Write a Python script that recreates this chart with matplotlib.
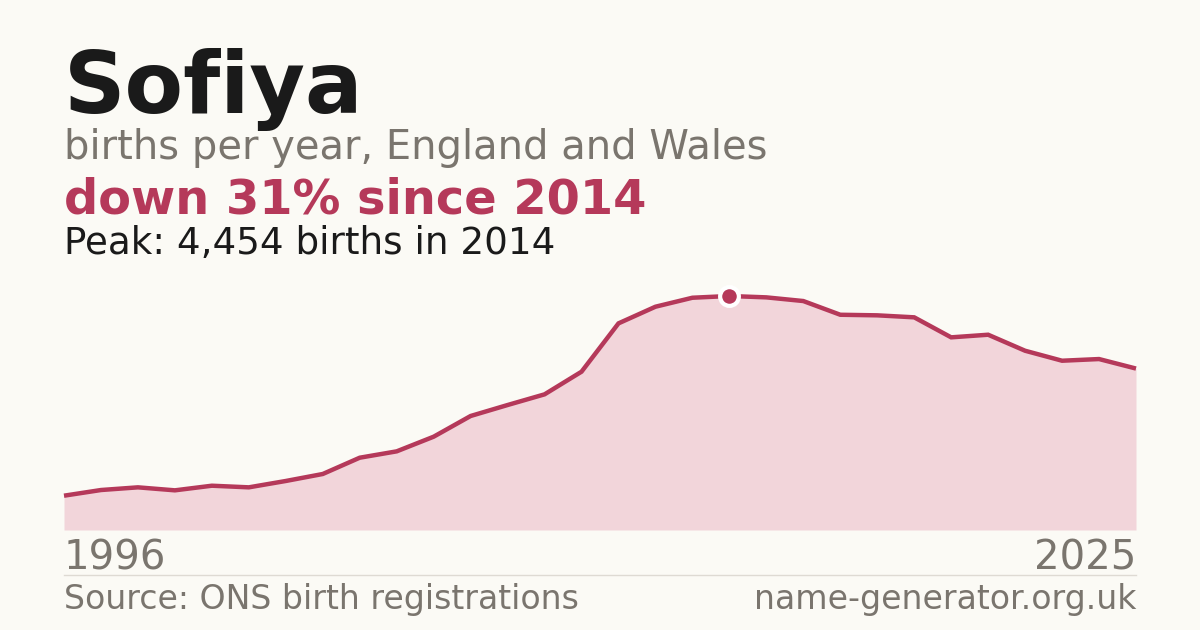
import matplotlib
matplotlib.use("Agg")
import matplotlib.pyplot as plt

# births per year for Sofiya, England and Wales
years = list(range(1996, 2026))
births = [653, 761, 812, 755, 843, 812, 933, 1066, 1376, 1497,
          1776, 2170, 2379, 2582, 3013, 3933, 4250, 4421, 4454, 4428,
          4358, 4097, 4086, 4048, 3667, 3717, 3412, 3222, 3254, 3073]
peak_year = 2014
peak_value = 4454

title = "Sofiya"
subtitle = "births per year, England and Wales"
headline = "down 31% since 2014"
peak_text = "Peak: 4,454 births in 2014"
source = "Source: ONS birth registrations"
site = "name-generator.org.uk"

BG = "#fbfaf5"
RED = "#b5395a"
FILL = "#f2d5da"
GREY = "#7a756e"
DARK = "#1a1a1a"

W, H = 1200, 630
fig = plt.figure(figsize=(W / 100, H / 100), dpi=100, facecolor=BG)


def fx(px):
    return px / W


def fy(py):
    return 1 - py / H


# plot area: x 64..1136, y 296(top, peak)..530(baseline)
ax = fig.add_axes([fx(64), fy(530), fx(1136 - 64), (530 - 296) / H])
ax.set_facecolor(BG)
ax.fill_between(years, births, 0, color=FILL, linewidth=0)
ax.plot(years, births, color=RED, linewidth=3.2, solid_joinstyle="miter",
        solid_capstyle="butt", clip_on=False, zorder=3)
ax.plot([peak_year], [peak_value], marker="o", markersize=13.5,
        markerfacecolor=RED, markeredgecolor="white", markeredgewidth=3,
        clip_on=False, zorder=4)
ax.set_xlim(years[0], years[-1])
ax.set_ylim(0, peak_value)
ax.axis("off")

# separator above the footer
fig.add_artist(plt.Line2D([fx(64), fx(1136)], [fy(574.5), fy(574.5)],
                          color="#dedad3", linewidth=1))

fig.text(fx(64), fy(113), title, fontsize=61.5, fontweight="bold", color=DARK,
         va="baseline", ha="left")
fig.text(fx(64), fy(159), subtitle, fontsize=28.8, color=GREY,
         va="baseline", ha="left")
fig.text(fx(64), fy(214), headline, fontsize=34.5, fontweight="bold", color=RED,
         va="baseline", ha="left")
fig.text(fx(64), fy(254), peak_text, fontsize=26.8, color=DARK,
         va="baseline", ha="left")

fig.text(fx(64), fy(569), str(years[0]), fontsize=28.9, color=GREY,
         va="baseline", ha="left")
fig.text(fx(1136), fy(569), str(years[-1]), fontsize=28.9, color=GREY,
         va="baseline", ha="right")

fig.text(fx(64), fy(609), source, fontsize=23.9, color=GREY,
         va="baseline", ha="left")
fig.text(fx(1136), fy(609), site, fontsize=23.9, color=GREY,
         va="baseline", ha="right")

fig.savefig("out.png", dpi=100, facecolor=BG)
